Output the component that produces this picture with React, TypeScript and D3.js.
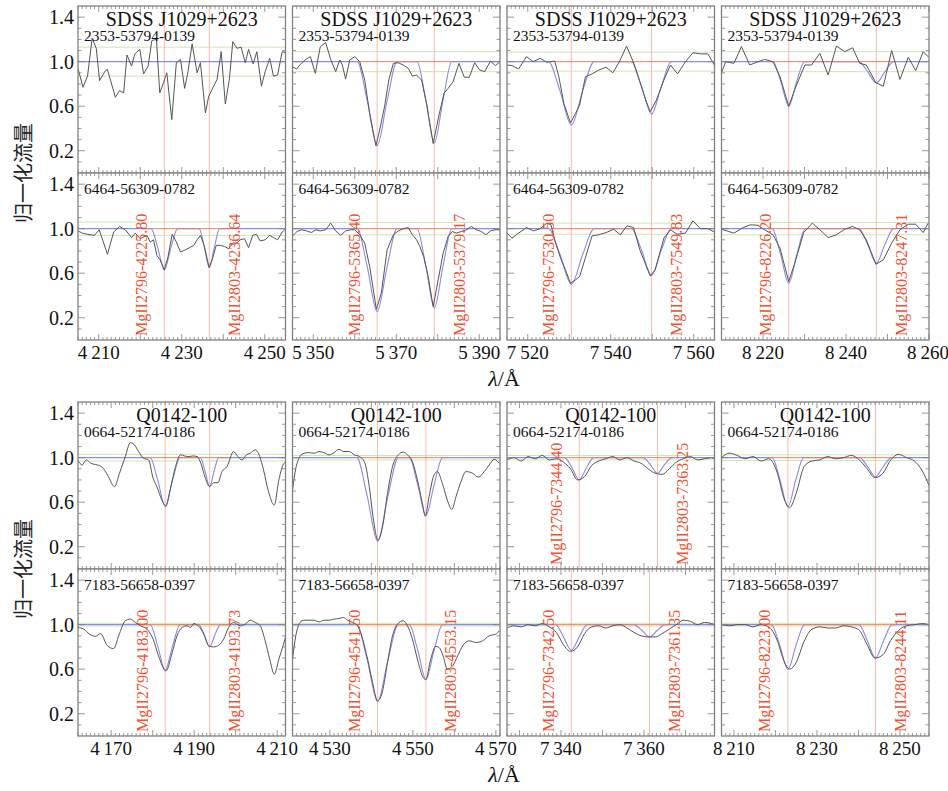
import React from 'react'
import * as d3 from 'd3'

type Pt = [number, number]

// ---- data ----
const titles = ['SDSS J1029+2623', 'Q0142-100']
const plates = [['2353-53794-0139', '6464-56309-0782'], ['0664-52174-0186', '7183-56658-0397']]

const topDomains: Pt[] = [[4205, 4255], [5345, 5395], [7515, 7565], [8210, 8260]]
const bottomDomains: Pt[] = [[4162, 4212], [4521, 4571], [7327, 7377], [8207, 8257]]
const topTicks = [[4210, 4230, 4250], [5350, 5370, 5390], [7520, 7540, 7560], [8220, 8240, 8260]]
const bottomTicks = [[4170, 4190, 4210], [4530, 4550, 4570], [7340, 7360], [8210, 8230, 8250]]
const yTicks = [0.2, 0.6, 1.0, 1.4]

// MgII line positions per panel row
const top2796 = [4225.80, 5365.40, 7530.50, 8226.20]
const top2803 = [4236.64, 5379.17, 7549.83, 8247.31]
const q0664_2796 = [4183.00, 4541.50, 7344.40, 8223.00]
const q0664_2803 = [4193.73, 4553.15, 7363.25, 8244.11]
const q7183_2796 = [4183.00, 4541.50, 7342.50, 8223.00]
const q7183_2803 = [4193.73, 4553.15, 7361.35, 8244.11]

// 1-sigma noise levels
const topSigma = [[0.13, 0.06], [0.09, 0.055], [0.085, 0.05], [0.09, 0.055]]
const bottomSigma = [[0.03, 0.012], [0.02, 0.012], [0.02, 0.012], [0.025, 0.012]]

const s2353_4230: Pt[] = [[4205.0,0.94],[4206.2,0.77],[4207.3,0.87],[4208.4,1.21],[4209.4,1.12],[4210.2,0.83],[4211.6,0.92],[4212.1,0.93],[4214.0,0.68],[4215.0,0.74],[4216.0,0.72],[4216.8,1.06],[4217.9,0.96],[4218.7,1.07],[4219.9,1.11],[4220.8,0.89],[4221.9,0.96],[4222.8,1.19],[4223.9,1.20],[4224.7,0.72],[4225.6,0.81],[4226.4,0.90],[4227.6,0.48],[4228.7,0.99],[4229.7,1.02],[4230.7,0.76],[4231.5,0.91],[4232.5,1.16],[4233.7,0.90],[4234.5,0.99],[4235.7,0.54],[4236.5,0.69],[4237.7,0.78],[4238.5,0.84],[4239.5,1.09],[4240.5,0.62],[4241.5,0.85],[4242.3,1.18],[4243.3,1.12],[4244.3,1.13],[4245.3,0.99],[4246.1,1.11],[4247.2,0.98],[4248.1,1.09],[4249.2,0.78],[4250.1,0.91],[4251.2,1.03],[4252.1,0.87],[4253.1,0.88],[4254.2,1.09],[4255.1,1.08]]
const s6464_4230: Pt[] = [[4205.0,0.98],[4206.0,0.96],[4207.2,0.95],[4209.0,0.94],[4210.1,0.99],[4212.1,0.77],[4213.6,0.97],[4215.0,1.02],[4216.4,0.99],[4217.9,0.92],[4218.8,0.96],[4220.0,0.91],[4221.6,0.94],[4222.4,0.88],[4223.2,0.90],[4224.0,0.76],[4224.8,0.72],[4225.8,0.63],[4226.7,0.75],[4227.7,0.95],[4228.7,0.88],[4229.7,0.79],[4230.9,0.81],[4231.9,0.83],[4232.9,0.85],[4233.7,0.90],[4234.5,0.94],[4235.4,0.85],[4236.6,0.65],[4237.4,0.73],[4238.3,0.85],[4239.3,0.85],[4240.3,0.84],[4241.3,0.82],[4242.3,0.87],[4243.2,0.87],[4244.1,0.90],[4245.1,0.91],[4246.1,0.83],[4247.1,0.94],[4248.0,0.95],[4248.9,0.89],[4250.1,0.90],[4251.2,0.94],[4252.1,0.92],[4253.1,0.90],[4254.2,0.97],[4255.1,1.00]]
const s2353_5370: Pt[] = [[5345.0,0.955],[5346.0,0.934],[5346.9,0.976],[5348.2,1.02],[5349.3,1.045],[5350.5,0.895],[5351.7,1.135],[5353.0,1.17],[5354.2,1.02],[5355.4,0.91],[5356.4,1.015],[5357.0,0.97],[5357.8,0.845],[5358.8,1.015],[5360.0,1.045],[5361.2,1.0],[5362.4,0.835],[5363.6,0.535],[5365.1,0.245],[5366.0,0.385],[5367.2,0.60],[5368.2,0.835],[5369.3,0.985],[5370.5,0.99],[5371.7,0.97],[5372.9,0.94],[5373.9,0.87],[5374.9,0.88],[5376.1,0.835],[5377.3,0.625],[5378.9,0.265],[5380.3,0.52],[5381.5,0.715],[5382.5,0.76],[5383.7,0.82],[5385.1,0.985],[5386.4,0.86],[5387.6,0.86],[5388.9,0.99],[5390.1,0.925],[5391.3,0.91],[5392.7,1.005],[5393.9,0.965],[5395.0,1.0]]
const s6464_5370: Pt[] = [[5345.0,0.935],[5346.1,0.975],[5347.2,0.99],[5348.4,0.98],[5349.6,0.965],[5350.6,0.99],[5351.7,0.98],[5353.0,0.99],[5354.2,1.05],[5355.4,0.98],[5356.6,0.94],[5357.8,0.98],[5359.0,0.99],[5360.0,0.99],[5361.2,0.945],[5362.4,0.87],[5363.6,0.66],[5365.2,0.275],[5366.4,0.42],[5367.8,0.81],[5369.3,0.945],[5370.5,0.98],[5371.7,1.0],[5372.9,1.01],[5373.9,0.945],[5374.9,0.90],[5375.7,0.84],[5376.6,0.75],[5377.7,0.57],[5378.9,0.30],[5380.1,0.54],[5381.3,0.78],[5382.5,0.93],[5383.5,0.975],[5384.5,0.96],[5385.7,0.975],[5386.9,0.99],[5388.1,1.02],[5389.3,0.99],[5390.5,0.975],[5391.6,0.945],[5392.7,0.98],[5393.8,0.99],[5395.0,0.99]]
const s2353_7540: Pt[] = [[7515.0,0.97],[7516.2,0.965],[7517.8,0.935],[7519.7,1.045],[7521.3,1.0],[7523.0,1.03],[7524.6,0.995],[7525.4,1.0],[7526.5,1.005],[7527.5,0.865],[7528.7,0.625],[7530.3,0.45],[7531.5,0.535],[7532.5,0.61],[7533.9,0.865],[7535.5,0.89],[7537.1,0.925],[7538.9,0.95],[7540.5,0.90],[7542.1,1.0],[7543.8,1.14],[7545.4,1.0],[7547.0,0.82],[7548.3,0.67],[7549.5,0.55],[7551.0,0.655],[7552.8,0.835],[7554.4,0.97],[7556.1,0.89],[7558.0,1.0],[7559.8,1.08],[7561.6,1.07],[7563.4,1.07],[7565.2,0.955]]
const s6464_7540: Pt[] = [[7515.0,0.96],[7516.2,0.915],[7517.8,0.96],[7519.7,1.01],[7521.4,0.98],[7523.0,1.0],[7524.6,1.05],[7525.6,1.035],[7526.6,0.885],[7527.9,0.735],[7529.1,0.63],[7530.3,0.51],[7531.5,0.54],[7532.5,0.57],[7533.9,0.74],[7535.5,0.935],[7537.1,0.945],[7538.9,0.965],[7540.7,0.995],[7542.3,0.945],[7543.9,1.025],[7545.5,1.01],[7547.0,0.81],[7548.3,0.69],[7549.5,0.575],[7550.7,0.63],[7552.8,0.915],[7554.4,0.99],[7556.0,0.95],[7558.0,0.96],[7559.8,1.07],[7561.6,1.0],[7563.4,1.0],[7565.2,0.965]]
const s2353_8235: Pt[] = [[8210.0,0.90],[8211.0,1.0],[8213.0,0.985],[8214.8,1.135],[8216.8,0.97],[8218.8,1.0],[8220.4,1.02],[8222.4,1.0],[8224.1,0.865],[8226.2,0.60],[8227.9,0.775],[8230.1,0.97],[8231.7,0.97],[8233.7,1.075],[8235.7,0.88],[8237.7,1.14],[8239.7,1.09],[8241.6,1.125],[8243.3,0.985],[8244.9,0.97],[8247.2,0.81],[8249.0,0.78],[8251.0,1.10],[8253.0,0.84],[8255.0,1.04],[8256.8,0.92],[8258.6,1.09],[8259.8,1.045]]
const s6464_8235: Pt[] = [[8210.0,0.995],[8213.0,0.96],[8215.2,1.01],[8217.0,1.035],[8218.8,1.03],[8220.4,0.99],[8222.4,0.945],[8224.1,0.825],[8226.2,0.525],[8227.9,0.72],[8229.8,0.965],[8231.9,1.05],[8233.7,0.99],[8235.7,0.92],[8237.7,0.945],[8239.7,0.995],[8241.6,1.02],[8243.3,0.99],[8244.9,0.90],[8247.2,0.68],[8249.0,0.72],[8251.0,0.87],[8253.0,0.99],[8255.0,1.04],[8256.8,1.04],[8258.6,0.965],[8259.8,1.05]]

const s0664_4187: Pt[] = [[4162.0,0.975],[4163.0,0.935],[4164.0,0.98],[4165.1,0.95],[4166.6,0.935],[4167.8,0.915],[4169.1,0.845],[4170.8,0.74],[4172.0,0.86],[4173.4,1.01],[4174.6,1.135],[4175.6,1.115],[4176.6,1.055],[4177.8,0.995],[4179.0,0.98],[4180.1,0.815],[4181.0,0.74],[4182.2,0.62],[4183.2,0.565],[4184.2,0.71],[4185.5,0.92],[4186.7,1.025],[4187.7,1.015],[4188.7,1.01],[4189.7,1.015],[4190.7,1.01],[4191.6,0.95],[4192.7,0.815],[4193.7,0.74],[4194.7,0.775],[4195.7,0.775],[4196.7,0.875],[4197.9,0.92],[4199.5,1.055],[4200.5,1.01],[4201.5,0.98],[4202.6,1.025],[4203.5,1.04],[4204.7,1.07],[4205.8,1.01],[4206.7,0.89],[4207.9,0.695],[4209.3,0.575],[4210.4,0.80],[4211.4,0.935],[4212.1,0.965]]
const s7183_4187: Pt[] = [[4162.0,0.975],[4163.4,0.96],[4164.8,0.915],[4166.2,0.895],[4167.4,0.92],[4169.1,0.81],[4170.6,0.785],[4171.8,0.90],[4173.4,1.035],[4174.6,1.05],[4175.8,1.02],[4177.0,0.99],[4178.6,0.96],[4180.1,0.87],[4181.4,0.72],[4183.2,0.585],[4184.7,0.75],[4185.9,0.905],[4187.1,0.975],[4188.3,0.99],[4189.1,0.975],[4189.9,1.01],[4191.1,0.985],[4192.3,0.915],[4193.5,0.81],[4194.7,0.80],[4195.9,0.815],[4197.1,0.87],[4198.3,0.975],[4199.5,1.02],[4201.1,0.99],[4202.3,1.005],[4203.5,1.04],[4204.7,1.02],[4205.9,0.99],[4207.1,0.855],[4208.2,0.69],[4209.3,0.555],[4210.4,0.69],[4211.4,0.81],[4212.1,0.90]]
const s0664_4546: Pt[] = [[4521.0,0.71],[4521.8,0.905],[4522.8,1.01],[4523.8,1.04],[4525.0,1.045],[4526.2,1.04],[4527.4,1.055],[4528.6,1.045],[4529.8,1.025],[4531.0,1.045],[4532.2,1.075],[4533.4,1.055],[4534.7,1.055],[4535.9,1.025],[4537.1,1.01],[4538.3,0.965],[4539.5,0.74],[4540.4,0.47],[4541.6,0.26],[4542.7,0.38],[4543.9,0.68],[4545.1,0.92],[4546.5,1.025],[4547.7,1.05],[4548.7,1.025],[4549.9,0.965],[4551.1,0.80],[4552.3,0.59],[4553.0,0.475],[4553.9,0.65],[4555.1,0.845],[4555.9,0.875],[4557.1,0.77],[4558.3,0.62],[4559.4,0.535],[4560.4,0.65],[4561.6,0.785],[4562.8,0.875],[4564.4,0.86],[4565.8,0.825],[4567.2,0.875],[4568.4,0.935],[4569.6,0.985],[4570.8,0.95]]
const s7183_4546: Pt[] = [[4521.0,0.69],[4521.8,0.90],[4522.8,1.02],[4523.8,1.04],[4525.0,1.04],[4526.2,1.04],[4527.4,1.025],[4528.6,1.04],[4529.8,1.04],[4531.0,1.05],[4532.2,1.055],[4533.2,1.065],[4534.3,1.04],[4535.5,1.02],[4536.7,0.99],[4537.9,0.87],[4539.1,0.69],[4540.3,0.48],[4541.5,0.315],[4542.7,0.405],[4543.9,0.66],[4545.1,0.90],[4546.3,1.005],[4547.7,1.035],[4548.7,0.99],[4549.9,0.87],[4551.1,0.69],[4552.3,0.54],[4553.1,0.505],[4554.3,0.69],[4555.5,0.805],[4556.3,0.795],[4557.3,0.72],[4558.3,0.60],[4559.6,0.63],[4560.8,0.72],[4562.0,0.81],[4563.6,0.855],[4565.2,0.84],[4566.8,0.855],[4568.4,0.90],[4570.0,0.915],[4570.8,0.945]]
const s0664_7352: Pt[] = [[7327.0,0.98],[7328.7,1.0],[7330.4,0.97],[7332.1,1.01],[7333.8,0.99],[7335.5,1.02],[7337.2,0.98],[7338.9,0.99],[7340.6,0.96],[7342.3,0.90],[7344.0,0.80],[7345.7,0.83],[7347.4,0.93],[7349.1,0.97],[7350.8,0.99],[7352.5,1.01],[7354.2,0.98],[7355.9,1.0],[7357.6,0.97],[7359.3,0.95],[7361.0,0.90],[7362.7,0.86],[7364.4,0.85],[7366.1,0.90],[7367.8,0.96],[7369.5,0.99],[7371.2,1.01],[7372.9,0.98],[7374.6,0.99],[7376.3,1.0],[7377.0,0.99]]
const s7183_7352: Pt[] = [[7327.0,0.97],[7328.7,0.99],[7330.4,0.98],[7332.1,1.0],[7333.8,0.99],[7335.5,1.01],[7337.2,0.98],[7338.9,0.93],[7340.6,0.82],[7342.3,0.76],[7344.0,0.80],[7345.7,0.92],[7347.4,0.98],[7349.1,0.99],[7350.8,0.97],[7352.5,0.99],[7354.2,1.0],[7355.9,0.97],[7357.6,0.93],[7359.3,0.90],[7361.0,0.89],[7362.7,0.89],[7364.4,0.92],[7366.1,0.96],[7367.8,1.0],[7369.5,1.04],[7371.2,1.03],[7372.9,1.0],[7374.6,1.02],[7376.3,1.01],[7377.0,1.0]]
const s0664_8232: Pt[] = [[8207.0,1.0],[8208.9,1.04],[8210.8,1.02],[8212.7,0.99],[8214.6,1.01],[8216.5,0.97],[8218.4,0.99],[8220.3,0.88],[8222.2,0.62],[8223.4,0.55],[8225.0,0.68],[8226.9,0.92],[8228.8,0.97],[8230.7,0.98],[8232.6,1.01],[8234.5,0.99],[8236.4,1.0],[8238.3,1.02],[8240.2,0.98],[8242.1,0.90],[8244.0,0.82],[8245.9,0.86],[8247.8,0.98],[8249.7,1.03],[8251.6,1.0],[8253.5,0.97],[8255.4,0.88],[8257.0,0.75]]
const s7183_8232: Pt[] = [[8207.0,1.0],[8208.9,0.99],[8210.8,1.0],[8212.7,1.0],[8214.6,0.98],[8216.5,1.0],[8218.4,0.98],[8220.3,0.87],[8222.2,0.66],[8223.4,0.60],[8225.0,0.66],[8226.9,0.85],[8228.8,0.96],[8230.7,0.98],[8232.6,0.97],[8234.5,0.97],[8236.4,0.99],[8238.3,0.98],[8240.2,0.95],[8242.1,0.82],[8244.0,0.70],[8245.9,0.73],[8247.8,0.86],[8249.7,0.95],[8251.6,0.99],[8253.5,1.0],[8255.4,1.01],[8257.0,1.0]]

// fitted absorption model (key points of the blue curve)
const m2353_4230: Pt[] = [[4205,1],[4255,1]]
const m6464_4230: Pt[] = [[4205,1],[4222.6,1],[4224.2,0.83],[4225.8,0.63],[4227.4,0.83],[4229.0,1],[4234.2,1],[4235.4,0.84],[4236.64,0.65],[4237.9,0.84],[4239.1,1],[4255,1]]
const m2353_5370: Pt[] = [[5345,1],[5360.6,1],[5363.0,0.65],[5365.4,0.245],[5367.8,0.65],[5370.2,1],[5375.0,1],[5377.1,0.66],[5379.17,0.27],[5381.3,0.66],[5383.4,1],[5395,1]]
const m6464_5370: Pt[] = [[5345,1],[5360.6,1],[5363.0,0.66],[5365.4,0.255],[5367.8,0.66],[5370.2,1],[5375.0,1],[5377.1,0.67],[5379.17,0.29],[5381.3,0.67],[5383.4,1],[5395,1]]
const m2353_7540: Pt[] = [[7515,1],[7525.0,1],[7527.75,0.74],[7530.5,0.43],[7533.25,0.74],[7536.0,1],[7545.0,1],[7547.4,0.78],[7549.83,0.53],[7552.2,0.78],[7554.6,1],[7565,1]]
const m6464_7540: Pt[] = [[7515,1],[7525.0,1],[7527.75,0.77],[7530.5,0.50],[7533.25,0.77],[7536.0,1],[7545.0,1],[7547.4,0.81],[7549.83,0.58],[7552.2,0.81],[7554.6,1],[7565,1]]
const m2353_8235: Pt[] = [[8210,1],[8222.4,1],[8224.3,0.82],[8226.2,0.60],[8228.1,0.82],[8230.0,1],[8243.1,1],[8245.2,0.91],[8247.31,0.81],[8249.4,0.91],[8251.5,1],[8260,1]]
const m6464_8235: Pt[] = [[8210,1],[8222.2,1],[8224.2,0.775],[8226.2,0.51],[8228.2,0.775],[8230.2,1],[8243.1,1],[8245.2,0.86],[8247.31,0.69],[8249.4,0.86],[8251.5,1],[8260,1]]
const m0664_4187: Pt[] = [[4162,1],[4179.4,1],[4181.2,0.80],[4183,0.565],[4184.8,0.80],[4186.6,1],[4191.5,1],[4192.6,0.88],[4193.73,0.74],[4194.8,0.88],[4195.9,1],[4212,1]]
const m7183_4187: Pt[] = [[4162,1],[4179.4,1],[4181.2,0.81],[4183,0.59],[4184.8,0.81],[4186.6,1],[4191.1,1],[4192.4,0.91],[4193.73,0.80],[4195.0,0.91],[4196.3,1],[4212,1]]
const m0664_4546: Pt[] = [[4521,1],[4536.5,1],[4539.0,0.655],[4541.5,0.25],[4544.0,0.655],[4546.5,1],[4549.15,1],[4551.15,0.76],[4553.15,0.48],[4555.15,0.76],[4557.15,1],[4571,1]]
const m7183_4546: Pt[] = [[4521,1],[4536.5,1],[4539.0,0.683],[4541.5,0.31],[4544.0,0.683],[4546.5,1],[4549.15,1],[4551.15,0.775],[4553.15,0.51],[4555.15,0.775],[4557.15,1],[4571,1]]
const m0664_7352: Pt[] = [[7327,1],[7340.9,1],[7342.65,0.91],[7344.4,0.80],[7346.15,0.91],[7347.9,1],[7359.75,1],[7361.5,0.94],[7363.25,0.86],[7365.0,0.94],[7366.75,1],[7377,1]]
const m7183_7352: Pt[] = [[7327,1],[7338.7,1],[7340.6,0.89],[7342.5,0.77],[7344.4,0.89],[7346.3,1],[7357.55,1],[7359.45,0.95],[7361.35,0.89],[7363.25,0.95],[7365.15,1],[7377,1]]
const m0664_8232: Pt[] = [[8207,1],[8219.2,1],[8221.1,0.80],[8223,0.56],[8224.9,0.80],[8226.8,1],[8240.3,1],[8242.2,0.92],[8244.11,0.83],[8246.0,0.92],[8247.9,1],[8257,1]]
const m7183_8232: Pt[] = [[8207,1],[8219,1],[8221,0.82],[8223,0.60],[8225,0.82],[8227,1],[8240.1,1],[8242.1,0.86],[8244.11,0.70],[8246.1,0.86],[8248.1,1],[8257,1]]

// ---- layout ----
const W = 948
const H = 791
const PW = 207.5
const PH = 167
const colX = [78, 292.5, 507, 721.5]
const serif = "'Liberation Serif', 'DejaVu Serif', serif"

const C = {
  data: '#555555',
  model: '#8a8ae8',
  orange: '#f08058',
  green: '#cce6b8',
  vline: '#f7bcae',
  label: '#ee5233',
  frame: '#808080',
}

const blocks = [
  {
    y0: 6, title: titles[0], plates: plates[0], domains: topDomains, ticks: topTicks,
    spec: [[s2353_4230, s6464_4230], [s2353_5370, s6464_5370], [s2353_7540, s6464_7540], [s2353_8235, s6464_8235]],
    model: [[m2353_4230, m6464_4230], [m2353_5370, m6464_5370], [m2353_7540, m6464_7540], [m2353_8235, m6464_8235]],
    sigma: topSigma,
    l2796: [top2796, top2796], l2803: [top2803, top2803],
    showLabel: [[false, false, false, false], [true, true, true, true]],
    showOrange: [[false, true, true, true], [true, true, true, true]],
    smooth: false,
  },
  {
    y0: 402, title: titles[1], plates: plates[1], domains: bottomDomains, ticks: bottomTicks,
    spec: [[s0664_4187, s7183_4187], [s0664_4546, s7183_4546], [s0664_7352, s7183_7352], [s0664_8232, s7183_8232]],
    model: [[m0664_4187, m7183_4187], [m0664_4546, m7183_4546], [m0664_7352, m7183_7352], [m0664_8232, m7183_8232]],
    sigma: bottomSigma,
    l2796: [q0664_2796, q7183_2796], l2803: [q0664_2803, q7183_2803],
    showLabel: [[false, false, true, false], [true, true, true, true]],
    showOrange: [[true, true, true, true], [true, true, true, true]],
    smooth: true,
  },
]

const fmtTick = (v: number) => `${Math.floor(v / 1000)}\u2009${String(v % 1000).padStart(3, '0')}`

function panel(key: string, x0: number, y0: number, dom: Pt, spec: Pt[], model: Pt[], sigma: number,
  l1: number, l2: number, opts: { label: boolean, orange: boolean, smooth: boolean, title?: string, plate: string,
  plateDy: number, xticks?: number[], ylabels: boolean }) {
  const x = d3.scaleLinear().domain(dom).range([x0, x0 + PW])
  const y = d3.scaleLinear().domain([0, 1.5]).range([y0 + PH, y0])
  const line = d3.line<Pt>().x(d => x(d[0])).y(d => y(d[1]))
  const dataLine = d3.line<Pt>().x(d => x(d[0])).y(d => y(d[1])).curve(opts.smooth ? d3.curveMonotoneX : d3.curveLinear)
  const modelLine = d3.line<Pt>().x(d => x(d[0])).y(d => y(d[1])).curve(d3.curveMonotoneX)
  const bottom = y0 + PH

  const xMinor = d3.range(Math.ceil(dom[0]), Math.floor(dom[1]) + 1)
  const yMinor = d3.range(1, 15).map(i => i / 10)

  return (
    <g key={key}>
      <clipPath id={`clip-${key}`}>
        <rect x={x0} y={y0} width={PW} height={PH} />
      </clipPath>
      <rect x={x0} y={y0} width={PW} height={PH} fill="white" />
      <g clipPath={`url(#clip-${key})`}>
        <path d={line([[dom[0], 1 + sigma], [dom[1], 1 + sigma]]) || ''} stroke={C.green} strokeWidth={1} fill="none" />
        <path d={line([[dom[0], 1 - sigma], [dom[1], 1 - sigma]]) || ''} stroke={C.green} strokeWidth={1} fill="none" />
        {[l1, l2].map((l, i) => (
          <line key={i} x1={x(l)} x2={x(l)} y1={y0} y2={bottom} stroke={C.vline} strokeWidth={1} />
        ))}
        <path d={modelLine(model) || ''} stroke={C.model} strokeWidth={1.1} fill="none" />
        {opts.orange && (
          <path d={line([[l1 - 5, 1], [l2 + 5, 1]]) || ''} stroke={C.orange} strokeWidth={1} fill="none" />
        )}
        <path d={dataLine(spec) || ''} stroke={C.data} strokeWidth={1} fill="none" />
      </g>
      {opts.label && [
        { l: l1, dx: -23, name: 'MgII2796' },
        { l: l2, dx: 25, name: 'MgII2803' },
      ].map((d, i) => (
        <text key={i} transform={`translate(${x(d.l) + d.dx},${bottom - 4}) rotate(-90)`}
          fontFamily={serif} fontSize={16} fill={C.label} dominantBaseline="central">
          {`${d.name}-${d.l.toFixed(2)}`}
        </text>
      ))}
      {opts.title && (
        <text x={x0 + PW / 2} y={y0 + 19.5} textAnchor="middle" fontFamily={serif} fontSize={20} fill="#111">{opts.title}</text>
      )}
      <text x={x0 + 6} y={y0 + opts.plateDy} fontFamily={serif} fontSize={15.5} fill="#111">{opts.plate}</text>
      {/* ticks, inward on all sides */}
      <g stroke={C.frame} strokeWidth={0.8}>
        {xMinor.map(v => {
          const len = v % 10 === 0 ? 6 : 3
          return (
            <g key={`x${v}`}>
              <line x1={x(v)} x2={x(v)} y1={bottom} y2={bottom - len} />
              <line x1={x(v)} x2={x(v)} y1={y0} y2={y0 + len} />
            </g>
          )
        })}
        {yMinor.map(v => {
          const len = yTicks.some(t => Math.abs(t - v) < 1e-6) ? 7 : 3.5
          return (
            <g key={`y${v}`}>
              <line x1={x0} x2={x0 + len} y1={y(v)} y2={y(v)} />
              <line x1={x0 + PW} x2={x0 + PW - len} y1={y(v)} y2={y(v)} />
            </g>
          )
        })}
      </g>
      <rect x={x0} y={y0} width={PW} height={PH} fill="none" stroke={C.frame} strokeWidth={1.3} />
      {opts.ylabels && yTicks.map(t => (
        <text key={t} x={x0 - 4} y={y(t)} dy="0.35em" textAnchor="end" fontFamily={serif} fontSize={20} fill="#111">
          {t.toFixed(1)}
        </text>
      ))}
      {opts.xticks && opts.xticks.map(t => (
        <text key={t} x={Math.min(x(t), W - 20)} y={bottom + 18.5} textAnchor="middle" fontFamily={serif} fontSize={19} fill="#111">
          {fmtTick(t)}
        </text>
      ))}
    </g>
  )
}

export default function App() {
  return (
    <svg width={W} height={H} style={{ position: 'absolute', left: 0, top: 0, background: 'white' }}>
      <rect width={W} height={H} fill="white" />
      {blocks.map((b, bi) => (
        <g key={bi}>
          {[0, 1].map(r => colX.map((cx, ci) => panel(
            `${bi}-${r}-${ci}`, cx, b.y0 + r * PH, b.domains[ci], b.spec[ci][r], b.model[ci][r], b.sigma[ci][r],
            b.l2796[r][ci], b.l2803[r][ci],
            {
              label: b.showLabel[r][ci], orange: b.showOrange[r][ci], smooth: b.smooth,
              title: r === 0 ? b.title : undefined, plate: b.plates[r],
              plateDy: r === 0 ? 34.5 : 20.5,
              xticks: r === 1 ? b.ticks[ci] : undefined, ylabels: ci === 0,
            })))}
          <text transform={`translate(22,${b.y0 + PH}) rotate(-90)`} textAnchor="middle" dominantBaseline="central"
            fontFamily="'Noto Sans CJK SC', sans-serif" fontSize={20} fill="#222">归一化流量</text>
          <text x={504} y={b.y0 + 2 * PH + 46} textAnchor="middle" fontFamily={serif} fontSize={22} fill="#111">
            <tspan fontStyle="italic">λ</tspan>/Å
          </text>
        </g>
      ))}
    </svg>
  )
}
